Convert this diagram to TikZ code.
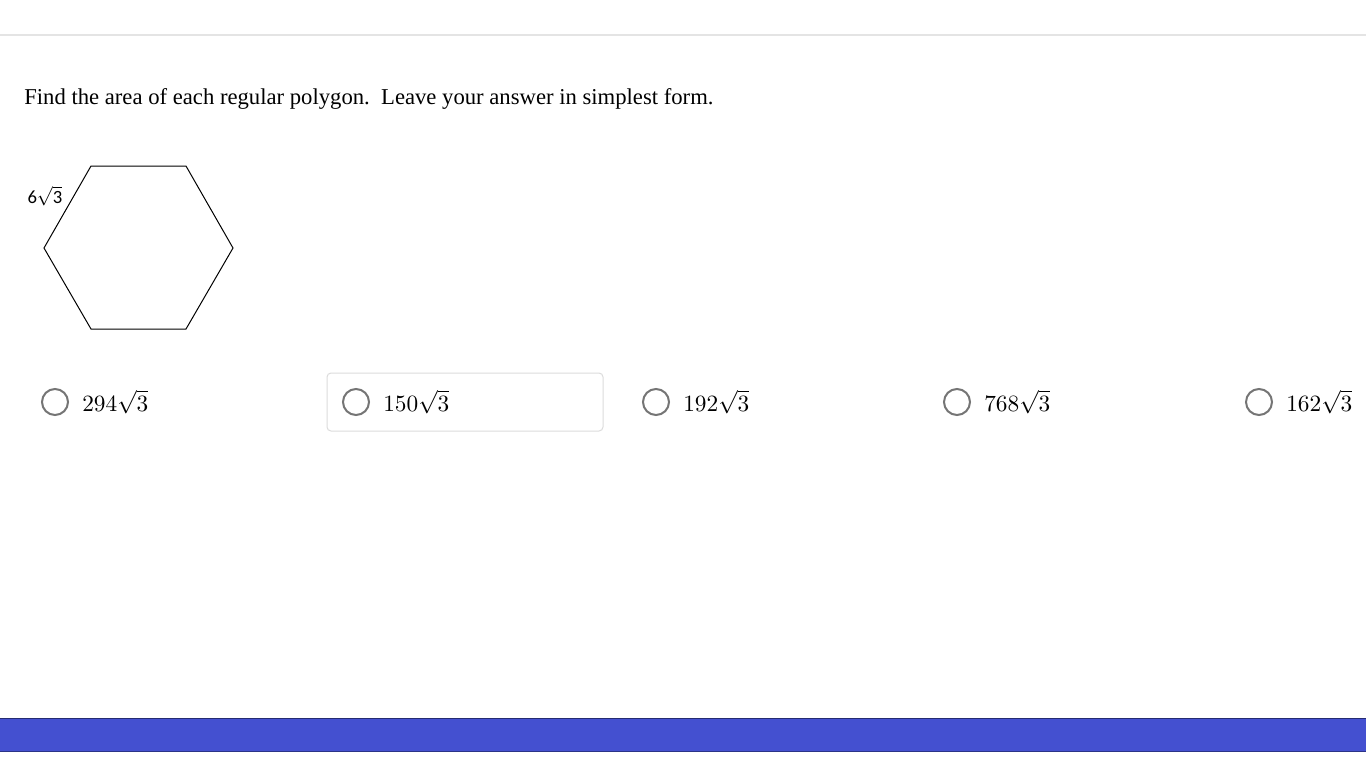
\documentclass[tikz,border=0pt]{standalone}
\usepackage[no-math]{fontspec}
\usepackage{graphicx}
\setmainfont{Liberation Serif}
\newfontfamily\labelfont{Carlito}
\usetikzlibrary{positioning}
\definecolor{barblue}{RGB}{68,80,208}
\definecolor{radiogray}{RGB}{117,117,117}
\definecolor{boxgray}{RGB}{220,220,220}
\definecolor{rulegray}{RGB}{228,228,228}

\newcommand{\answertext}[1]{\scalebox{1.75}{$#1\sqrt{3}$}}

\tikzset{
  radio/.style={circle,draw=radiogray,line width=1.5pt,minimum size=19.5pt,inner sep=0pt},
  answer/.style={inner sep=0pt},
}

\begin{document}
\begin{tikzpicture}[x=0.75pt,y=-0.75pt,node distance=9.75pt]
\useasboundingbox[fill=white] (0,0) rectangle (1366,768);
\draw[rulegray,line width=1.1pt] (0,35) -- (1366,35);
\node[anchor=base west,inner sep=0pt,font=\fontsize{17}{20}\selectfont] (question) at (24,104)
  {Find the area of each regular polygon.\ \ Leave your answer in simplest form.};

\coordinate (h1) at (91,166);
\coordinate (h2) at (186,166);
\coordinate (h3) at (233,248);
\coordinate (h4) at (186,329);
\coordinate (h5) at (91,329);
\coordinate (h6) at (44,248);
\draw[line width=0.75pt] (h1)--(h2)--(h3)--(h4)--(h5)--(h6)--cycle;
\node[inner sep=0pt,font=\labelfont\fontsize{14}{16}\selectfont] (side) at (45,196) {6$\sqrt{\mbox{\labelfont 3}}$};

\node[draw=boxgray,line width=0.75pt,rounded corners=3pt,minimum width=207pt,minimum height=43.5pt] (box) at (465,402) {};
\node[radio] (r1) at (55,402) {};
\node[answer,right=of r1] (a1) {\answertext{294}};
\node[radio] (r2) at (356,402) {};
\node[answer,right=of r2] (a2) {\answertext{150}};
\node[radio] (r3) at (656,402) {};
\node[answer,right=of r3] (a3) {\answertext{192}};
\node[radio] (r4) at (957,402) {};
\node[answer,right=of r4] (a4) {\answertext{768}};
\node[radio] (r5) at (1259,402) {};
\node[answer,right=of r5] (a5) {\answertext{162}};

\fill[barblue] (0,718) rectangle (1366,752);
\draw[black!45!barblue,line width=1pt] (0,718.5) -- (1366,718.5);
\draw[black!35!barblue,line width=1pt] (0,751.5) -- (1366,751.5);
\end{tikzpicture}
\end{document}
